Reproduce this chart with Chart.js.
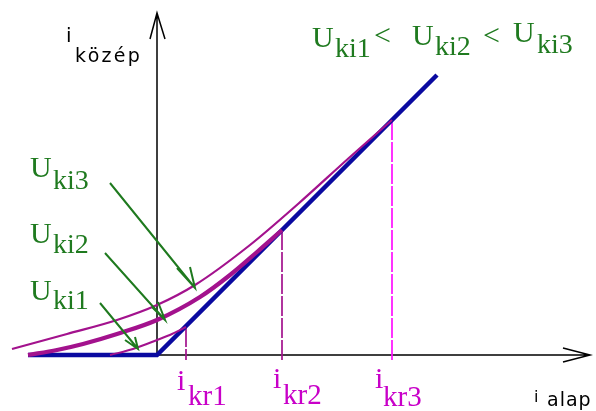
<!DOCTYPE html>
<html>
<head>
<meta charset="utf-8">
<script src="https://cdn.jsdelivr.net/npm/chart.js@4.4.1/dist/chart.umd.min.js"></script>
<style>
html,body{margin:0;padding:0;background:#fff;}
#wrap{width:596px;height:411px;}
</style>
</head>
<body>
<div id="wrap"><canvas id="c" width="596" height="411"></canvas></div>
<script>
// Diagram data in axis units (origin at the axes' crossing, y up)
const xAxisArrow = [[0,0],[433,0],null,[406,7],[433,0],[406,-7]];
const yAxisArrow = [[0,0],[0,342],null,[-7,316],[0,342],[8,316]];
const idealLine = [[-129,0],[0,0],[280,280]];
const curveUki1 = [[-47,0],[-24,6],[0,15],[15,21],[29,28]];
const curveUki2 = [[-129,0],[-100,5],[-74,11],[-40,21],[0,35],[43,58],[73,80],[100,103],[125,125]];
const curveUki3 = [[-145,6],[-90,21],[-40,35],[0,50],[38,70],[93,110],[141,151],[193,198],[235,235]];
const ikrValues = [29,125,235];
const ikrTops = [28,125,235];
const ikrBottom = -5;
const arrowUki3 = [[-47,172],[38,67],null,[20,87],[38,67],[33,88]];
const arrowUki2 = [[-52,102],[8,35],null,[-5,48],[8,35],[1,53]];
const arrowUki1 = [[-57,52],[-19,6],null,[-32,15],[-19,6],[-22,18]];

const pts = a => a.map(p => p ? {x:p[0], y:p[1]} : {x:null, y:null});

const BLUE = '#0a0aa0';
const MAG = '#a3128d';
const GREEN = '#1f7a1f';
const TXTMAG = '#c800c8';

const base = {showLine:true, pointRadius:0, fill:false, spanGaps:false, tension:0};
const datasets = [
  Object.assign({}, base, {data:pts(arrowUki3), borderColor:GREEN, borderWidth:2, order:1}),
  Object.assign({}, base, {data:pts(arrowUki2), borderColor:GREEN, borderWidth:2, order:1}),
  Object.assign({}, base, {data:pts(arrowUki1), borderColor:GREEN, borderWidth:2, order:1}),
  Object.assign({}, base, {data:pts(curveUki3), borderColor:MAG, borderWidth:2.2, cubicInterpolationMode:'monotone', order:3}),
  Object.assign({}, base, {data:pts(curveUki2), borderColor:MAG, borderWidth:4.2, cubicInterpolationMode:'monotone', order:3}),
  Object.assign({}, base, {data:pts(curveUki1), borderColor:MAG, borderWidth:2, cubicInterpolationMode:'monotone', order:3}),
  Object.assign({}, base, {data:pts(idealLine), borderColor:BLUE, borderWidth:4.5, order:4}),
];
ikrValues.forEach((v,i)=>{
  datasets.push(Object.assign({}, base, {
    data:[{x:v,y:ikrTops[i]},{x:v,y:ikrBottom}],
    borderColor: i===2 ? '#ff10ff' : MAG, borderWidth:1.7, borderDash:[20,2], order:5
  }));
});
datasets.push(Object.assign({}, base, {data:pts(xAxisArrow), borderColor:'#000', borderWidth:1.5, order:6}));
datasets.push(Object.assign({}, base, {data:pts(yAxisArrow), borderColor:'#000', borderWidth:1.5, order:6}));

const labels = {
  id:'labels',
  afterDraw(chart){
    const ctx = chart.ctx;
    ctx.save();
    ctx.textBaseline = 'alphabetic';
    ctx.textAlign = 'left';
    const serif = '"Liberation Serif", "Times New Roman", serif';
    function t(s, x, y, size, color, font, ls){
      ctx.font = size + 'px ' + (font || serif);
      ctx.fillStyle = color;
      ctx.letterSpacing = (ls || 0) + 'px';
      ctx.fillText(s, x, y);
    }
    // Green U labels
    t('U', 30, 177, 30, GREEN); t('ki3', 53, 189, 28, GREEN);
    t('U', 30, 243, 30, GREEN); t('ki2', 53, 253, 28, GREEN);
    t('U', 30, 300, 30, GREEN); t('ki1', 53, 309, 28, GREEN);
    // Top relation
    t('U', 312, 47, 30, GREEN); t('ki1', 335, 57, 28, GREEN); t('<', 374, 45, 30, GREEN);
    t('U', 412, 45, 30, GREEN); t('ki2', 435, 55, 28, GREEN); t('<', 483, 45, 30, GREEN);
    t('U', 513, 42, 30, GREEN); t('ki3', 537, 53, 28, GREEN);
    // ikr labels
    t('i', 177, 390, 30, TXTMAG); t('kr1', 188, 405, 29, TXTMAG);
    t('i', 273, 388, 30, TXTMAG); t('kr2', 283, 404, 29, TXTMAG);
    t('i', 375, 388, 30, TXTMAG); t('kr3', 383, 406, 29, TXTMAG);
    // axis labels
    const sans = '"DejaVu Sans", sans-serif';
    t('i', 66, 42, 20, '#000', sans);
    t('közép', 75, 62, 19, '#000', sans, 2.3);
    t('i', 534, 402, 16, '#000', sans);
    t('alap', 547, 406, 19, '#000', sans, 1);
    ctx.restore();
  }
};

new Chart(document.getElementById('c'), {
  type:'scatter',
  data:{datasets},
  options:{
    responsive:false,
    animation:false,
    devicePixelRatio:1,
    layout:{padding:0},
    plugins:{legend:{display:false}, tooltip:{enabled:false}},
    scales:{
      x:{type:'linear', display:false, min:-157, max:439},
      y:{type:'linear', display:false, min:-56, max:355}
    }
  },
  plugins:[labels]
});
</script>
</body>
</html>
